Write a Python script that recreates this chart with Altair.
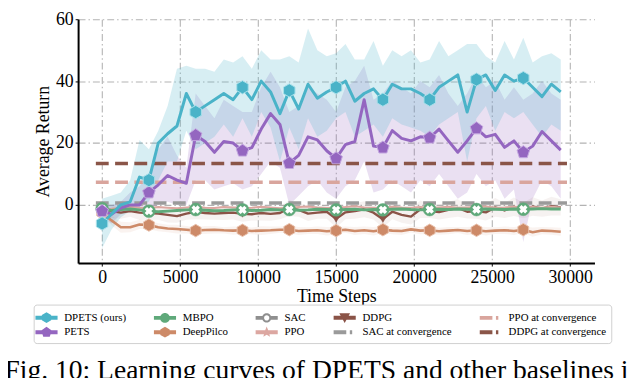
import math
import altair as alt
import pandas as pd

FONT = "Liberation Serif"

# ---------------- data ----------------
steps = [i * 600 for i in range(50)]

dpets = [-6, -3, 0, 1, 9, 8, 20, 23, 25.5, 36, 30, 32, 34, 36, 34, 38, 34, 40, 36.5, 29.5,
         37, 31, 39, 34.5, 36.5, 38, 40, 33.5, 36, 37.5, 34, 39, 37.5, 37.5, 36, 34, 38, 40, 42, 30,
         40.5, 42, 37, 42, 40, 41, 38, 35, 39, 36.5]
dpets_hi = [2, 3, 4, 8, 21, 18, 24, 32, 44, 45, 44, 44, 43, 47, 46, 48, 44, 50, 47, 47,
            48, 46, 57, 50, 48, 49, 52, 47, 47, 53, 45, 50, 48, 50, 46, 47, 53, 48, 50, 52,
            52, 48, 46, 53, 47, 54, 46, 48, 49, 47]
dpets_lo = [-14, -8, -4, -2, 0, 1, 8, 14, 14, 24, 18, 20, 22, 26, 22, 28, 22, 30, 25, 14,
            25, 18, 28, 22, 24, 28, 30, 22, 24, 26, 22, 28, 26, 25, 24, 22, 26, 28, 30, 14,
            28, 32, 24, 30, 28, 30, 26, 22, 26, 24]

pets = [-2, -3, -1, 0, 0, 4, 6.5, 9.5, 8, 7, 22.5, 20.5, 17, 20.5, 20, 17.5, 18.5, 24.5, 29.5, 26,
        13.5, 16, 22, 21, 17.5, 15, 19.5, 20.5, 34, 19, 18.5, 24, 21.5, 20.7, 22, 21.7, 24.5, 20.7, 17, 20.7,
        24.7, 22, 22.8, 18.6, 20.7, 17, 19, 23.7, 20.7, 17.7]
pets_hi = [0, 0, 1, 4, 6, 10, 18, 22, 16, 12, 36, 32, 28, 34, 32, 30, 30, 38, 43, 38,
           30, 32, 38, 36, 34, 30, 38, 40, 45, 34, 36, 40, 38, 36, 40, 38, 42, 36, 32, 36,
           42, 38, 40, 34, 38, 34, 36, 40, 36, 34]
pets_lo = [-4, -6, -3, -2, -2, -1, 0, 1, 0, 0, 8, 8, 5, 6, 7, 5, 6, 10, 14, 12,
           0, 3, 6, 8, 4, 2, 6, 8, 14, 4, 5, 8, 6, 4, 8, 6, 10, 6, 2, 4,
           10, 6, 8, 2, 5, -12, 2, 8, 6, 2]

mbpo = [-1.2, -1.8, -1.5, -1.3, -1.6, -2.0, -2.2, -2.0, -1.8, -1.6, -1.5, -1.7, -1.9, -1.8, -1.6,
        -1.6, -1.8, -1.7, -1.5, -1.6, -1.5, -1.7, -1.6, -1.4, -1.5, -1.6, -1.5, -1.4, -1.6, -1.5,
        -1.6, -1.4, -1.3, -1.5, -1.6, -1.5, -1.4, -1.5, -1.3, -1.4, -1.5, -1.3, -1.4, -1.5, -1.3,
        -1.4, -1.3, -1.2, -1.3, -1.3]

deeppilco = [-2.5, -5, -7.2, -7.2, -6.3, -6.5, -7.2, -7.6, -7.8, -8.0, -8.3, -8.1, -8.0, -8.2, -8.3,
             -8.2, -8.4, -8.3, -8.2, -8.0, -8.0, -8.4, -8.3, -8.2, -8.5, -8.3, -8.0, -8.4, -8.2, -8.5,
             -8.0, -8.3, -8.4, -7.9, -8.3, -8.2, -8.5, -8.3, -8.1, -8.4, -8.2, -8.5, -8.3, -8.2, -8.4,
             -8.0, -8.8, -8.3, -8.4, -8.7]
deeppilco_sd = [1.0, 1.5, 1.8, 1.6, 1.5, 1.4, 1.3, 1.2, 1.4, 1.2, 1.1, 1.3, 1.2, 1.0, 1.3,
                1.2, 1.1, 1.4, 1.2, 1.0, 1.2, 1.3, 1.1, 1.2, 1.4, 1.2, 1.0, 1.3, 1.2, 1.4,
                1.1, 1.2, 1.3, 1.0, 1.2, 1.3, 1.1, 1.2, 1.0, 1.3, 1.2, 1.4, 1.1, 1.2, 1.3,
                1.1, 1.5, 1.2, 1.2, 1.3]

ddpg = [-1, -2, -2.5, -2, -2.5, -2.6, -2.8, -3.2, -3.6, -2.8, -2.2, -2.6, -2.8, -2.6, -2.5,
        -2.9, -3.0, -2.6, -2.9, -2.6, -1.0, -1.6, -2.8, -2.5, -2.2, -4.5, -2.4, -2.0, -1.4, -2.5,
        -4.6, -2.2, -3.2, -3.8, -1.4, -2.0, -2.3, -1.6, -1.0, -2.2, -2.0, -2.4, -0.8, -1.8, -0.6,
        -1.8, -0.5, -1.2, -0.4, -0.8]
ddpg_sd = [2.0, 2.2, 2.0, 1.8, 2.4, 2.2, 2.0, 2.5, 2.2, 2.0, 2.4, 2.1, 2.0, 2.3, 2.2,
           2.5, 2.0, 2.4, 2.2, 2.0, 2.6, 2.2, 2.4, 2.0, 2.3, 2.8, 2.2, 2.5, 2.6, 2.2,
           2.8, 2.4, 2.6, 2.5, 2.8, 2.2, 2.4, 2.6, 2.8, 2.2, 2.5, 2.6, 3.0, 2.4, 3.0,
           2.5, 3.0, 2.6, 3.0, 2.6]

ppo = [-1.5, -1.2, -0.8, -0.6, -0.9, -1.0, -0.7, -0.9, -1.1, -0.8, -0.6, -0.9, -1.0, -0.7, -0.8,
       -1.0, -0.9, -0.6, -0.8, -1.1, -0.9, -0.7, -0.5, -0.8, -1.0, -0.9, -0.7, -0.4, -0.8, -0.9,
       -1.0, -0.6, -0.8, -0.9, -0.7, -1.0, -0.8, -0.6, -0.9, -0.8, -0.7, -0.5, -0.9, -0.8, -0.6,
       -0.8, -0.7, -0.9, -0.6, -0.8]

conv_names = ["SAC at convergence", "PPO at convergence", "DDPG at convergence"]
conv_values = [0.6, 7.3, 13.4]
conv_start, conv_end = -400, 29800

x_ticks = [0, 5000, 10000, 15000, 20000, 25000, 30000]
y_ticks = [0, 20, 40, 60]

# legend entries (filled column by column, two rows)
legend_order = ["DPETS (ours)", "PETS", "MBPO", "DeepPilco", "SAC", "PPO", "DDPG",
                "SAC at convergence", "PPO at convergence", "DDPG at convergence"]

# ---------------- styles ----------------
C_DPETS = "#4ab3c8"
C_PETS = "#9466c0"
C_MBPO = "#5fa97a"
C_DEEP = "#cd8a68"
C_SAC = "#8f8f8f"
C_PPO = "#dca7a1"
C_DDPG = "#8a5347"
C_SACC = "#9a9a9a"
C_PPOC = "#d9a59d"
C_DDPGC = "#8a5548"

HEX = "M0,-1L0.866,-0.5L0.866,0.5L0,1L-0.866,0.5L-0.866,-0.5Z"
PENT = "M0,-1L0.951,-0.309L0.588,0.809L-0.588,0.809L-0.951,-0.309Z"


def poly(pts):
    return "M" + "L".join(f"{x:.3f},{y:.3f}" for x, y in pts) + "Z"


def ngon(n, r, start=-90):
    return [(r * math.cos(math.radians(start + 360 * k / n)), r * math.sin(math.radians(start + 360 * k / n)))
            for k in range(n)]


def star(ro, ri):
    return [((ro if k % 2 == 0 else ri) * math.cos(math.radians(-90 + 36 * k)),
             (ro if k % 2 == 0 else ri) * math.sin(math.radians(-90 + 36 * k))) for k in range(10)]


LINE = "M-1.4,-0.25H1.4V0.25H-1.4Z"
CIRC = "M0.62,0A0.62,0.62 0 1,1 -0.62,0A0.62,0.62 0 1,1 0.62,0Z"
RING = ("M-1.4,-0.25H-0.5V0.25H-1.4Z M0.5,-0.25H1.4V0.25H0.5Z "
        "M0.58,0A0.58,0.58 0 1,1 -0.58,0A0.58,0.58 0 1,1 0.58,0Z "
        "M0.33,0A0.33,0.33 0 1,0 -0.33,0A0.33,0.33 0 1,0 0.33,0Z")
DASH = "M-1.4,-0.25H0.2V0.25H-1.4Z M0.65,-0.25H0.95V0.25H0.65Z"
TRI = poly([(-0.68, -0.55), (0.68, -0.55), (0, 0.68)])

legend_shapes = {
    "DPETS (ours)": LINE + " " + poly(ngon(6, 0.68)),
    "PETS": LINE + " " + poly(ngon(5, 0.7)),
    "MBPO": LINE + " " + CIRC,
    "DeepPilco": LINE + " " + poly(ngon(6, 0.68)),
    "SAC": RING,
    "PPO": LINE + " " + poly(star(0.72, 0.32)),
    "DDPG": LINE + " " + TRI,
    "SAC at convergence": DASH,
    "PPO at convergence": DASH,
    "DDPG at convergence": DASH,
}
legend_colors = {
    "DPETS (ours)": C_DPETS, "PETS": C_PETS, "MBPO": C_MBPO, "DeepPilco": C_DEEP,
    "SAC": C_SAC, "PPO": C_PPO, "DDPG": C_DDPG, "SAC at convergence": C_SACC,
    "PPO at convergence": C_PPOC, "DDPG at convergence": C_DDPGC,
}

# ---------------- scales / axes ----------------
xs = alt.Scale(domain=[-1538, 31563], nice=False, zero=False)
ys = alt.Scale(domain=[-18.8, 60], nice=False, zero=False)

x_axis = alt.Axis(values=x_ticks, format="d", title="Time Steps", grid=True,
                  gridColor="#b3b3b3", gridDash=[7, 3, 1.5, 3], gridWidth=1.1,
                  domainColor="black", domainWidth=2, tickColor="black", tickSize=3,
                  labelFont=FONT, labelFontSize=18, labelColor="black", labelPadding=3,
                  titleFont=FONT, titleFontSize=18, titleFontWeight="normal", titleColor="black",
                  titlePadding=1, labelFlush=False)
y_axis = alt.Axis(values=y_ticks, format="d", title="Average Return", grid=True,
                  gridColor="#b3b3b3", gridDash=[7, 3, 1.5, 3], gridWidth=1.1,
                  domainColor="black", domainWidth=2, tickColor="black", tickSize=3,
                  labelFont=FONT, labelFontSize=18, labelColor="black", labelPadding=2,
                  titleFont=FONT, titleFontSize=18, titleFontWeight="normal", titleColor="black",
                  titlePadding=3, labelFlush=False)


def X(field="step"):
    return alt.X(f"{field}:Q", scale=xs, axis=x_axis)


def Y(field="value"):
    return alt.Y(f"{field}:Q", scale=ys, axis=y_axis)


def series_df(vals):
    return pd.DataFrame({"step": steps, "value": vals})


def band_df(lo, hi):
    return pd.DataFrame({"step": steps, "lo": lo, "hi": hi})


layers = []

# bands
layers.append(alt.Chart(band_df(pets_lo, pets_hi)).mark_area(color=C_PETS, opacity=0.2)
              .encode(x=X(), y=Y("lo"), y2="hi"))
layers.append(alt.Chart(band_df(dpets_lo, dpets_hi)).mark_area(color=C_DPETS, opacity=0.22)
              .encode(x=X(), y=Y("lo"), y2="hi"))
layers.append(alt.Chart(band_df([m - s for m, s in zip(ddpg, ddpg_sd)], [m + s for m, s in zip(ddpg, ddpg_sd)]))
              .mark_area(color=C_DDPG, opacity=0.08).encode(x=X(), y=Y("lo"), y2="hi"))
layers.append(alt.Chart(band_df([m - s for m, s in zip(deeppilco, deeppilco_sd)],
                                [m + s for m, s in zip(deeppilco, deeppilco_sd)]))
              .mark_area(color=C_DEEP, opacity=0.1).encode(x=X(), y=Y("lo"), y2="hi"))

# convergence dashed lines
for name, val, col in zip(conv_names, conv_values, [C_SACC, C_PPOC, C_DDPGC]):
    d = pd.DataFrame({"start": [conv_start], "end": [conv_end], "value": [val], "name": [name]})
    layers.append(alt.Chart(d).mark_rule(color=col, strokeWidth=3.6, strokeDash=[13, 6.5])
                  .encode(x=X("start"), x2="end", y=Y()))


# curves with markers (every 3000 steps)
def curve(vals, col, width, shape=None, size=None, fill=None, stroke=None, sw=1.0):
    d = series_df(vals)
    out = [alt.Chart(d).mark_line(color=col, strokeWidth=width, strokeJoin="round")
           .encode(x=X(), y=Y())]
    if shape is not None:
        out.append(alt.Chart(d.iloc[::5]).mark_point(shape=shape, size=size, filled=True,
                                                     fill=fill or col, stroke=stroke or col,
                                                     strokeWidth=sw, opacity=1, fillOpacity=1)
                   .encode(x=X(), y=Y()))
    return out


layers += curve(deeppilco, C_DEEP, 2.6, HEX, 160, C_DEEP, "#e9c2ae", 1.0)
layers += curve(ddpg, C_DDPG, 2.4, "triangle-down", 60, C_DDPG, C_DDPG, 0.5)
layers += curve(ppo, C_PPO, 2.0)
layers += curve(mbpo, C_MBPO, 3.0, "circle", 170, C_MBPO, C_MBPO, 0.5)
layers.append(alt.Chart(series_df(mbpo).iloc[::5]).mark_point(shape="cross", angle=45, size=75, filled=True,
                                                              fill="white", strokeWidth=0, opacity=1)
              .encode(x=X(), y=Y()))
layers += curve(pets, C_PETS, 3.0, PENT, 180, C_PETS, "#c3a8e0", 1.0)
layers += curve(dpets, C_DPETS, 3.0, HEX, 180, C_DPETS, "#a9e0ea", 1.0)

# legend carrier (clipped out of view)
leg_df = pd.DataFrame({"step": [0] * len(legend_order), "value": [-100] * len(legend_order),
                       "legend": legend_order})
leg = alt.Legend(orient="none", legendX=-45, legendY=289, columns=5, title=None,
                 labelFont=FONT, labelFontSize=11, labelColor="black", symbolSize=256,
                 symbolStrokeWidth=0, labelOffset=10, columnPadding=27, rowPadding=1,
                 padding=5, strokeColor="#cfcfcf", fillColor="white", cornerRadius=3,
                 symbolOpacity=1)
layers.append(alt.Chart(leg_df).mark_point(filled=True, size=256, opacity=1, clip=True).encode(
    x=X(), y=Y(),
    color=alt.Color("legend:N", scale=alt.Scale(domain=legend_order,
                                                range=[legend_colors[k] for k in legend_order]), legend=leg),
    shape=alt.Shape("legend:N", scale=alt.Scale(domain=legend_order,
                                                range=[legend_shapes[k] for k in legend_order]), legend=leg),
))

chart = alt.layer(*layers).properties(
    width=523, height=247,
    padding={"left": 71, "top": 9, "right": 38, "bottom": 114},
    autosize=alt.AutoSizeParams(type="none"),
    title=alt.TitleParams(text="Fig. 10: Learning curves of DPETS and other baselines i",
                          orient="bottom", anchor="start", font=FONT, fontSize=27.9,
                          fontWeight="normal", color="black", dx=-29, offset=36,
                          baseline="alphabetic"),
).configure_view(stroke=None)

chart.save("out.html", embed_options={"renderer": "svg", "actions": False})
